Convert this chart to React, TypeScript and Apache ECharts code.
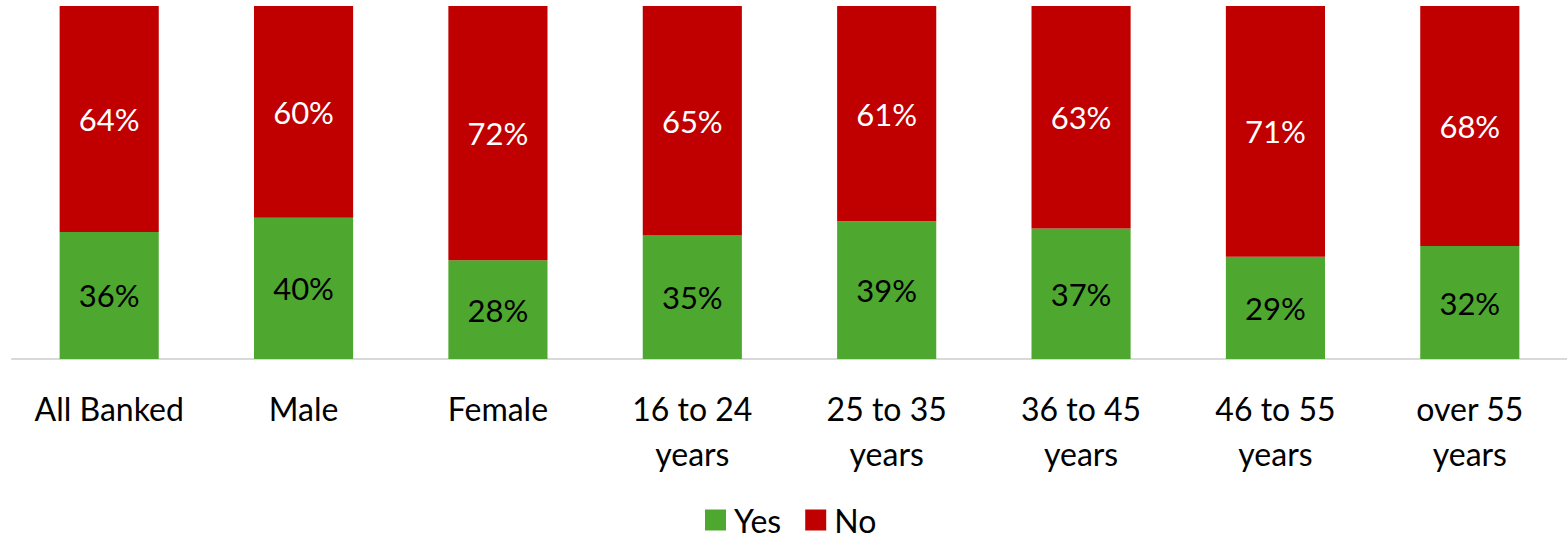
import React, { useEffect, useRef } from "react";
import * as echarts from "echarts";

const categories = ["All Banked", "Male", "Female", "16 to 24\nyears", "25 to 35\nyears", "36 to 45\nyears", "46 to 55\nyears", "over 55\nyears"];
const yesValues = [36, 40, 28, 35, 39, 37, 29, 32];
const noValues = [64, 60, 72, 65, 61, 63, 71, 68];

const FONT = "Lato, 'Open Sans', sans-serif";

export default function App() {
  const ref = useRef<HTMLDivElement>(null);
  useEffect(() => {
    if (!ref.current) return;
    const chart = echarts.init(ref.current, undefined, { renderer: "svg" });
    chart.setOption({
      animation: false,
      backgroundColor: "#ffffff",
      textStyle: { fontFamily: FONT },
      grid: { left: 12, right: 0, top: 6, bottom: 181, containLabel: false },
      xAxis: {
        type: "category",
        data: categories,
        axisLine: { lineStyle: { color: "#d9d9d9", width: 2 } },
        axisTick: { show: false },
        axisLabel: { color: "#000", fontSize: 32, fontFamily: FONT, margin: 27, lineHeight: 45 },
      },
      yAxis: { type: "value", min: 0, max: 100, show: false, splitLine: { show: false } },
      legend: {
        top: 504,
        left: 705,
        padding: 0,
        icon: "rect",
        itemWidth: 21,
        itemHeight: 21,
        itemGap: 24,
        textStyle: { fontSize: 32, color: "#000", fontFamily: FONT, padding: [0, 0, 0, 3] },
        data: ["Yes", "No"],
      },
      series: [
        {
          name: "Yes",
          type: "bar",
          stack: "t",
          barWidth: "51%",
          data: yesValues,
          itemStyle: { color: "#4EA72E" },
          label: { show: true, position: "inside", formatter: "{c}%", color: "#000", fontSize: 31, fontFamily: FONT },
        },
        {
          name: "No",
          type: "bar",
          stack: "t",
          barWidth: "51%",
          data: noValues,
          itemStyle: { color: "#C00000" },
          label: { show: true, position: "inside", formatter: "{c}%", color: "#fff", fontSize: 31, fontFamily: FONT },
        },
      ],
    });
    return () => chart.dispose();
  }, []);
  return <div ref={ref} style={{ position: "fixed", left: 0, top: 0, width: 1567, height: 540 }} />;
}
